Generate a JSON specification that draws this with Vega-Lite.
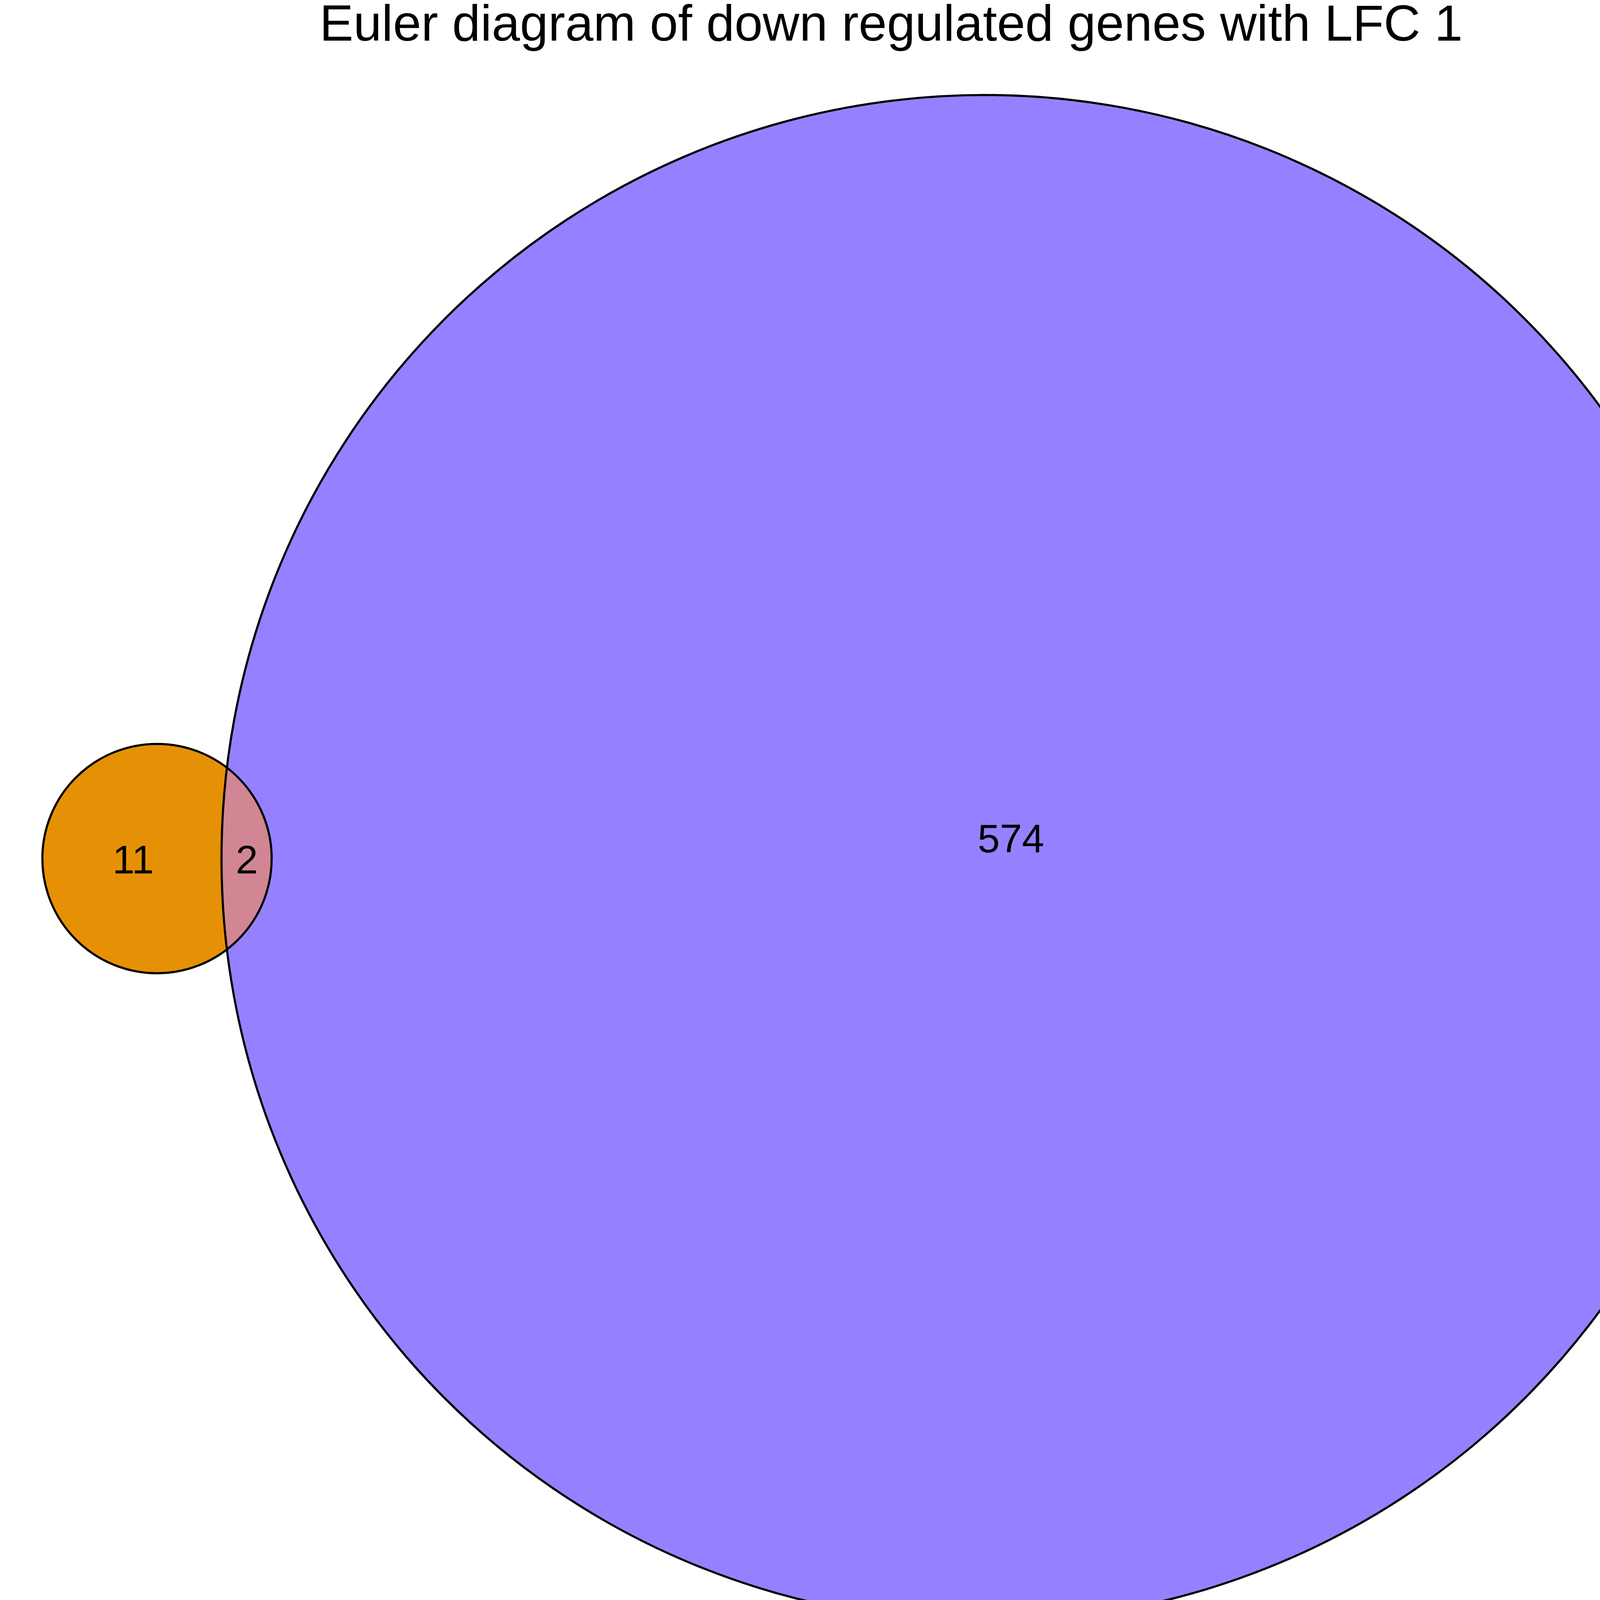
{
  "$schema": "https://vega.github.io/schema/vega-lite/v6.json",
  "description": "Euler diagram of down regulated genes, two sets drawn as circles sized by set size",
  "width": 5940,
  "height": 4200,
  "autosize": {"type": "fit", "contains": "padding"},
  "padding": 0,
  "background": "white",
  "title": {
    "text": "Euler diagram of down regulated genes with LFC 1",
    "font": "Liberation Sans",
    "fontSize": 130,
    "fontWeight": "normal",
    "color": "black",
    "anchor": "start",
    "frame": "group",
    "baseline": "alphabetic",
    "dx": 818,
    "offset": -3
  },
  "datasets": {
    "circles": [
      {"set": "SS_WT vs SD_WT", "x": 0, "y": 0, "r": 13.541},
      {"set": "Mutant vs WT under SD", "x": -14.685, "y": 0, "r": 2.034}
    ],
    "counts": [
      {"region": "Mutant vs WT under SD", "x": -15.108, "y": -0.01, "n": 11},
      {"region": "Mutant vs WT under SD & SS_WT vs SD_WT", "x": -13.091, "y": -0.01, "n": 2},
      {"region": "SS_WT vs SD_WT", "x": 0.464, "y": 0.364, "n": 574}
    ]
  },
  "encoding": {
    "x": {
      "field": "x",
      "type": "quantitative",
      "scale": {"domain": [-17.4705, 23.6937], "nice": false, "zero": false},
      "axis": null
    },
    "y": {
      "field": "y",
      "type": "quantitative",
      "scale": {"domain": [-13.815, 13.5724], "nice": false, "zero": false},
      "axis": null
    }
  },
  "layer": [
    {
      "data": {"name": "circles"},
      "mark": {"type": "point", "shape": "circle", "filled": true, "opacity": 1, "strokeWidth": 0},
      "encoding": {
        "size": {
          "field": "r",
          "type": "quantitative",
          "scale": {"type": "pow", "exponent": 2, "domain": [0, 10], "range": [0, 8329000]},
          "legend": null
        },
        "color": {
          "field": "set",
          "type": "nominal",
          "scale": {
            "domain": ["Mutant vs WT under SD", "SS_WT vs SD_WT"],
            "range": ["#E69105", "#9581FF"]
          },
          "legend": {
            "title": null,
            "orient": "none",
            "legendX": 4651,
            "legendY": 1810,
            "symbolType": "circle",
            "symbolSize": 5184,
            "symbolStrokeColor": "black",
            "symbolStrokeWidth": 5.5,
            "symbolOpacity": 1,
            "labelFont": "Liberation Sans",
            "labelFontSize": 101,
            "labelColor": "black",
            "labelOffset": 69,
            "labelLimit": 0,
            "rowPadding": 25,
            "padding": 0
          }
        }
      }
    },
    {
      "data": {"name": "circles"},
      "transform": [{"filter": "datum.set === 'SS_WT vs SD_WT'"}],
      "mark": {"type": "point", "shape": "circle", "filled": true, "opacity": 1, "strokeWidth": 0, "color": "#000093", "blend": "lighten"},
      "encoding": {
        "size": {"field": "r", "type": "quantitative"}
      }
    },
    {
      "data": {"name": "circles"},
      "transform": [{"filter": "datum.set === 'SS_WT vs SD_WT'"}],
      "mark": {"type": "point", "shape": "circle", "filled": true, "opacity": 1, "strokeWidth": 0, "color": "#D286FF", "blend": "darken"},
      "encoding": {
        "size": {"field": "r", "type": "quantitative"}
      }
    },
    {
      "data": {"name": "circles"},
      "mark": {"type": "point", "shape": "circle", "filled": false, "opacity": 1, "stroke": "black", "strokeWidth": 5.5},
      "encoding": {
        "size": {"field": "r", "type": "quantitative"}
      }
    },
    {
      "data": {"name": "counts"},
      "mark": {"type": "text", "font": "Liberation Sans", "fontSize": 102, "color": "black", "align": "center", "baseline": "middle", "dy": 6},
      "encoding": {
        "text": {"field": "n", "type": "quantitative"}
      }
    }
  ],
  "config": {"view": {"stroke": null}}
}
